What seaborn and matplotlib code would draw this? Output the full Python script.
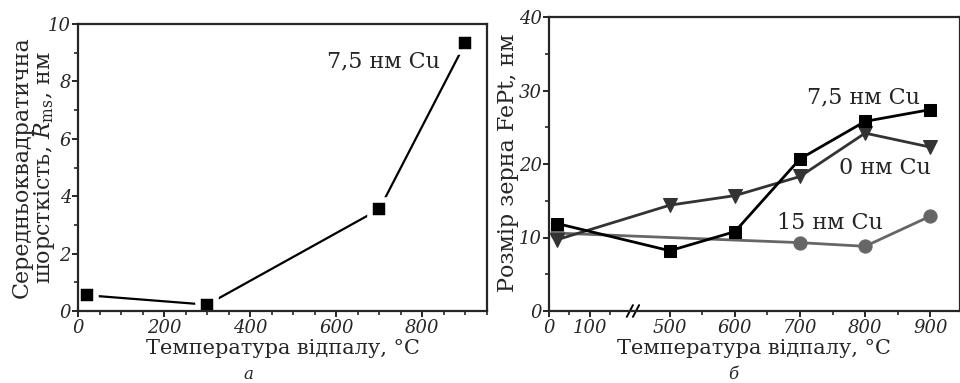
import numpy as np
import matplotlib
matplotlib.use("Agg")
import matplotlib.pyplot as plt
import seaborn as sns

# ---------------- data ----------------
# panel а: RMS roughness vs annealing temperature (7,5 нм Cu)
temp_a = [20, 300, 700, 900]
rms_a = [0.55, 0.22, 3.55, 9.35]

# panel б: FePt grain size vs annealing temperature
temp_75 = [20, 500, 600, 700, 800, 900]
size_75 = [11.9, 8.2, 10.8, 20.7, 25.8, 27.4]
temp_0 = [20, 500, 600, 700, 800, 900]
size_0 = [9.7, 14.4, 15.7, 18.3, 24.2, 22.3]
temp_15 = [20, 700, 800, 900]
size_15 = [10.6, 9.3, 8.8, 12.9]

xticks_a = [0, 200, 400, 600, 800]
yticks_a = [0, 2, 4, 6, 8, 10]
xticks_b = [0, 100, 500, 600, 700, 800, 900]
xminor_b = [50, 150, 550, 650, 750, 850]
yticks_b = [0, 10, 20, 30, 40]

# ---------------- style ----------------
sns.set_theme(style="ticks")
plt.rcParams["font.family"] = ["DejaVu Serif"]
plt.rcParams["mathtext.fontset"] = "dejavuserif"
plt.rcParams["axes.linewidth"] = 1.6
for ax_ in ("x", "y"):
    plt.rcParams[f"{ax_}tick.direction"] = "out"
    plt.rcParams[f"{ax_}tick.major.size"] = 4
    plt.rcParams[f"{ax_}tick.minor.size"] = 3
    plt.rcParams[f"{ax_}tick.major.width"] = 1.4
    plt.rcParams[f"{ax_}tick.minor.width"] = 1.2
plt.rcParams["xtick.major.pad"] = 1.5
plt.rcParams["ytick.major.pad"] = 1.0

FS_TICK = 13
FS_LAB = 15
FS_ANN = 16

fig = plt.figure(figsize=(9.6, 3.83), dpi=100)
W, H = 960, 383
BOT = 311
ax1 = fig.add_axes([78 / W, (H - BOT) / H, (487 - 78) / W, (BOT - 24) / H])
ax2 = fig.add_axes([549 / W, (H - BOT) / H, (959.5 - 549) / W, (BOT - 17) / H])

# ---------------- panel а ----------------
sns.lineplot(x=temp_a, y=rms_a, ax=ax1, color="black", marker="s",
             markersize=13.5, markeredgecolor="white", markeredgewidth=4,
             markerfacecolor="black", linewidth=1.6, sort=False)
ax1.set_xlim(0, 950)
ax1.set_ylim(0, 10)
ax1.set_xticks(xticks_a)
ax1.set_xticks(np.arange(0, 951, 50), minor=True)
ax1.set_yticks(yticks_a)
ax1.set_yticks(np.arange(0, 11, 1), minor=True)
ax1.set_xlabel("Температура відпалу, °C", fontsize=FS_LAB, va="top")
ax1.xaxis.set_label_coords(0.5, -27.5 / (BOT - 24))
ax1.set_ylabel("Середньоквадратична\nшорсткість, $R_{\\mathrm{ms}}$, нм",
               fontsize=16, linespacing=1.0, va="center")
ax1.yaxis.set_label_coords(-0.108, 0.5)
ax1.text(710, 8.7, "7,5 нм Cu", fontsize=FS_ANN, ha="center", va="center")

# ---------------- panel б (broken x axis) ----------------
brk_x = [-1000, 200, 440, 3000]
brk_p = [-1000, 200, 201, 201 + 2560 * 1.6]


def fwd(x):
    return np.interp(x, brk_x, brk_p)


def inv(p):
    return np.interp(p, brk_p, brk_x)


ax2.set_xscale("function", functions=(fwd, inv))
sns.lineplot(x=temp_15, y=size_15, ax=ax2, color="#666666", marker="o",
             markersize=9.5, markeredgecolor="#666666", linewidth=2.0, sort=False)
sns.lineplot(x=temp_0, y=size_0, ax=ax2, color="#333333", marker="v",
             markersize=10.5, markeredgecolor="#333333", linewidth=2.0, sort=False)
sns.lineplot(x=temp_75, y=size_75, ax=ax2, color="black", marker="s",
             markersize=9, markeredgecolor="black", linewidth=2.0, sort=False)
ax2.set_xlim(0, 945)
ax2.set_ylim(0, 40)
ax2.set_xticks(xticks_b)
ax2.set_xticks(xminor_b, minor=True)
ax2.set_yticks(yticks_b)
ax2.set_yticks(np.arange(0, 41, 5), minor=True)
ax2.set_xlabel("Температура відпалу, °C", fontsize=FS_LAB, va="top")
ax2.xaxis.set_label_coords(0.5, -27.5 / (BOT - 17))
ax2.set_ylabel("Розмір зерна FePt, нм", fontsize=16, va="center")
ax2.yaxis.set_label_coords(-0.1, 0.505)
ax2.text(798, 29.1, "7,5 нм Cu", fontsize=FS_ANN, ha="center", va="center")
ax2.text(830, 19.4, "0 нм Cu", fontsize=FS_ANN, ha="center", va="center")
ax2.text(746, 12.0, "15 нм Cu", fontsize=FS_ANN, ha="center", va="center")

# break marks "//" on the bottom axis
for cx in (0.197, 0.212):
    ax2.plot([cx - 0.0075, cx + 0.0075], [-0.02, 0.02], transform=ax2.transAxes,
             color="black", linewidth=1.4, clip_on=False)

for ax in (ax1, ax2):
    for lab in ax.get_xticklabels() + ax.get_yticklabels():
        lab.set_fontstyle("italic")
        lab.set_fontsize(FS_TICK)
    for s in ("top", "right"):
        ax.spines[s].set_visible(True)
    ax.tick_params(which="both", top=False, right=False)

fig.text(248 / W, 0.0, "а", fontsize=12, style="italic", ha="center", va="bottom")
fig.text(733 / W, 0.0, "б", fontsize=12, style="italic", ha="center", va="bottom")

fig.savefig("out.png", dpi=100)
